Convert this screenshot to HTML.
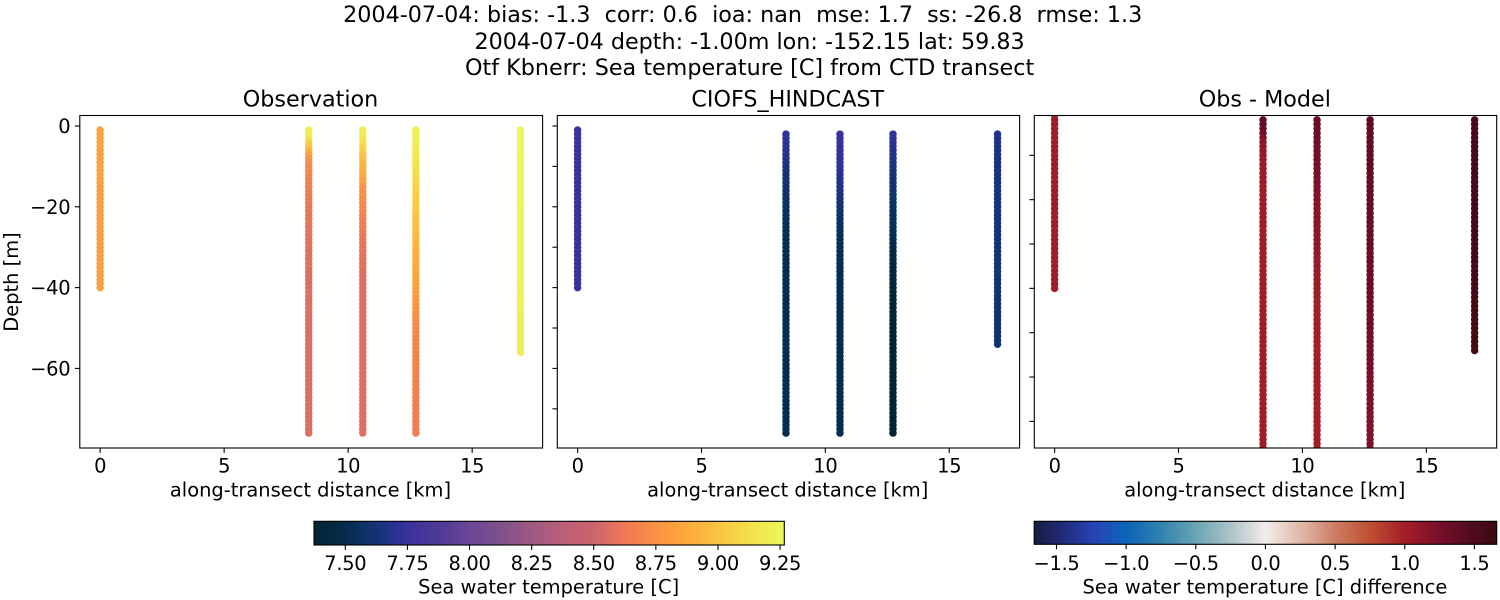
<!DOCTYPE html>
<html><head><meta charset="utf-8"><title>CTD transect comparison</title>
<style>
html,body{margin:0;padding:0;background:#fff}
svg{display:block}
text{font-family:"DejaVu Sans","Liberation Sans",sans-serif;fill:#000}
</style></head>
<body>
<svg id="fig" xmlns="http://www.w3.org/2000/svg" width="1500" height="600" viewBox="0 0 1500 600">
<rect width="1500" height="600" fill="#fff"/>
<text x="742.7" y="22" font-size="22.25" text-anchor="middle" xml:space="preserve">2004-07-04: bias: -1.3  corr: 0.6  ioa: nan  mse: 1.7  ss: -26.8  rmse: 1.3</text>
<text x="749.6" y="49" font-size="22.25" text-anchor="middle">2004-07-04 depth: -1.00m lon: -152.15 lat: 59.83</text>
<text x="749.6" y="75" font-size="22.25" text-anchor="middle">Otf Kbnerr: Sea temperature [C] from CTD transect</text>
<defs id="defs"></defs>
<g id="plots"></g>
</svg>
<script>
// ---- data ----
const stationDistanceKm = [0, 8.41, 10.59, 12.73, 16.95];
const depthLevels = [-1,-2,-3,-4,-5,-6,-7,-8,-9,-10,-11,-12,-13,-14,-15,-16,-17,-18,-19,-20,-21,-22,-23,-24,-25,-26,-27,-28,-29,-30,-31,-32,-33,-34,-35,-36,-37,-38,-39,-40,-41,-42,-43,-44,-45,-46,-47,-48,-49,-50,-51,-52,-53,-54,-55,-56,-57,-58,-59,-60,-61,-62,-63,-64,-65,-66,-67,-68,-69,-70,-71,-72,-73,-74,-75,-76];
const obsDepthOffset = [0,0,0,0,0];
const modelDepthOffset = [0,1,1,1,1];

const obsStation0 = [8.84,8.84,8.84,8.84,8.84,8.83,8.83,8.83,8.83,8.83,8.83,8.83,8.83,8.83,8.82,8.82,8.82,8.82,8.82,8.82,8.82,8.82,8.82,8.82,8.82,8.82,8.82,8.82,8.82,8.82,8.81,8.81,8.81,8.81,8.81,8.81,8.81,8.81,8.81,8.81];
const obsStation1 = [9.21,9.2,9.17,9.08,9.02,8.92,8.85,8.78,8.74,8.72,8.7,8.69,8.68,8.67,8.66,8.65,8.64,8.64,8.63,8.62,8.62,8.61,8.61,8.61,8.6,8.6,8.6,8.59,8.59,8.59,8.58,8.58,8.58,8.58,8.58,8.57,8.57,8.57,8.57,8.57,8.57,8.57,8.57,8.57,8.57,8.57,8.57,8.56,8.56,8.56,8.56,8.56,8.56,8.56,8.56,8.56,8.56,8.56,8.56,8.56,8.56,8.56,8.56,8.56,8.56,8.56,8.56,8.56,8.56,8.56,8.56,8.56,8.56,8.56,8.56,8.56];
const obsStation2 = [9.21,9.2,9.18,9.13,9.09,9.05,9.01,8.98,8.95,8.92,8.9,8.87,8.85,8.82,8.78,8.76,8.75,8.73,8.72,8.7,8.69,8.68,8.67,8.66,8.65,8.64,8.63,8.62,8.61,8.6,8.6,8.59,8.59,8.58,8.58,8.57,8.57,8.57,8.57,8.57,8.57,8.57,8.57,8.57,8.57,8.57,8.57,8.57,8.57,8.57,8.57,8.57,8.57,8.57,8.57,8.57,8.57,8.57,8.57,8.57,8.57,8.57,8.57,8.57,8.57,8.57,8.57,8.57,8.57,8.57,8.57,8.57,8.57,8.57,8.57,8.57];
const obsStation3 = [9.23,9.22,9.22,9.21,9.2,9.19,9.18,9.17,9.16,9.15,9.14,9.12,9.1,9.09,9.08,9.07,9.06,9.05,9.05,9.04,9.03,9.02,9.01,9,8.99,8.98,8.96,8.95,8.94,8.93,8.92,8.91,8.9,8.89,8.88,8.86,8.85,8.84,8.84,8.83,8.82,8.81,8.8,8.78,8.77,8.76,8.75,8.73,8.72,8.71,8.71,8.7,8.7,8.69,8.69,8.69,8.68,8.68,8.68,8.68,8.68,8.67,8.67,8.67,8.67,8.67,8.67,8.66,8.66,8.66,8.66,8.66,8.66,8.66,8.66,8.66];
const obsStation4 = [9.26,9.26,9.26,9.26,9.26,9.26,9.26,9.25,9.25,9.25,9.25,9.25,9.25,9.25,9.25,9.25,9.25,9.25,9.25,9.25,9.24,9.24,9.24,9.24,9.24,9.24,9.24,9.24,9.24,9.24,9.23,9.23,9.23,9.23,9.23,9.23,9.23,9.23,9.23,9.22,9.22,9.22,9.22,9.22,9.22,9.22,9.22,9.21,9.21,9.21,9.21,9.21,9.21,9.21,9.21,9.21];

const modelStation0 = [7.76,7.76,7.76,7.76,7.76,7.76,7.76,7.75,7.75,7.75,7.75,7.75,7.75,7.75,7.75,7.75,7.75,7.75,7.75,7.75,7.75,7.75,7.75,7.75,7.75,7.75,7.75,7.75,7.75,7.75,7.75,7.75,7.75,7.75,7.75,7.75,7.75,7.75,7.75,7.75];
const modelStation1 = [7.73,7.72,7.72,7.71,7.7,7.69,7.68,7.66,7.65,7.64,7.63,7.62,7.61,7.6,7.59,7.58,7.57,7.57,7.56,7.55,7.55,7.54,7.54,7.53,7.52,7.52,7.52,7.51,7.51,7.51,7.51,7.51,7.5,7.5,7.5,7.5,7.5,7.5,7.5,7.5,7.5,7.5,7.5,7.5,7.5,7.5,7.5,7.5,7.5,7.5,7.5,7.5,7.5,7.5,7.5,7.5,7.5,7.5,7.5,7.5,7.5,7.5,7.5,7.5,7.5,7.5,7.5,7.5,7.5,7.5,7.5,7.5,7.5,7.5,7.5];
const modelStation2 = [7.75,7.75,7.75,7.74,7.74,7.73,7.73,7.72,7.72,7.71,7.7,7.69,7.68,7.67,7.66,7.65,7.64,7.62,7.61,7.6,7.59,7.57,7.56,7.55,7.54,7.54,7.53,7.53,7.53,7.52,7.52,7.52,7.52,7.52,7.51,7.51,7.51,7.51,7.51,7.51,7.51,7.51,7.51,7.51,7.5,7.5,7.5,7.5,7.5,7.5,7.5,7.5,7.5,7.5,7.5,7.5,7.5,7.5,7.5,7.5,7.5,7.5,7.5,7.5,7.5,7.5,7.5,7.5,7.5,7.5,7.5,7.5,7.5,7.5,7.5];
const modelStation3 = [7.73,7.72,7.71,7.7,7.69,7.68,7.67,7.66,7.65,7.64,7.63,7.62,7.61,7.6,7.6,7.59,7.58,7.57,7.57,7.56,7.55,7.54,7.53,7.52,7.51,7.5,7.5,7.49,7.48,7.47,7.46,7.45,7.44,7.44,7.43,7.42,7.42,7.41,7.41,7.41,7.4,7.4,7.4,7.4,7.4,7.4,7.39,7.39,7.39,7.39,7.39,7.39,7.39,7.39,7.39,7.39,7.39,7.39,7.39,7.39,7.39,7.39,7.39,7.39,7.39,7.39,7.39,7.39,7.39,7.39,7.39,7.39,7.39,7.39,7.39];
const modelStation4 = [7.68,7.67,7.67,7.66,7.66,7.66,7.65,7.65,7.65,7.65,7.65,7.64,7.64,7.64,7.64,7.64,7.64,7.64,7.64,7.63,7.63,7.63,7.63,7.63,7.63,7.63,7.63,7.63,7.62,7.62,7.62,7.62,7.62,7.62,7.62,7.62,7.61,7.61,7.61,7.61,7.61,7.61,7.61,7.61,7.61,7.6,7.6,7.6,7.6,7.6,7.6,7.6,7.6];

const diffStation0 = [1.03,1.03,1.03,1.03,1.03,1.03,1.03,1.03,1.03,1.03,1.03,1.03,1.03,1.03,1.03,1.03,1.03,1.03,1.03,1.03,1.03,1.03,1.03,1.03,1.03,1.03,1.03,1.03,1.03,1.03,1.03,1.03,1.03,1.03,1.03,1.03,1.03,1.03,1.03,1.03];
const diffStation1 = [1.38,1.37,1.36,1.28,1.2,1.14,1.1,1.08,1.07,1.06,1.05,1.05,1.04,1.04,1.04,1.03,1.03,1.03,1.03,1.03,1.03,1.03,1.02,1.02,1.02,1.02,1.02,1.02,1.02,1.02,1.01,1.01,1.01,1.01,1.01,1.01,1.01,1.01,1.01,1.01,1.01,1.01,1.01,1.01,1.01,1.01,1.01,1.01,1.01,1.01,1.01,1.01,1.01,1.01,1.01,1.01,1.01,1.01,1.01,1.01,1.01,1.01,1.01,1.01,1.01,1.01,1.01,1.01,1.01,1.01,1.01,1.01,1.01,1.01,1.01];
const diffStation2 = [1.34,1.33,1.33,1.32,1.31,1.3,1.29,1.28,1.27,1.26,1.25,1.24,1.23,1.22,1.21,1.2,1.19,1.19,1.18,1.17,1.16,1.16,1.15,1.14,1.13,1.13,1.12,1.11,1.1,1.1,1.09,1.08,1.07,1.07,1.06,1.05,1.05,1.04,1.04,1.03,1.03,1.02,1.02,1.02,1.01,1.01,1.01,1,1,1,1,1,1,1,1,1,1,1,1,1,1,1,1,1,1,1,1,1,1,1,1,1,1,1,1];
const diffStation3 = [1.4,1.39,1.39,1.39,1.38,1.38,1.38,1.38,1.38,1.37,1.37,1.37,1.37,1.36,1.36,1.36,1.36,1.35,1.35,1.35,1.35,1.35,1.34,1.34,1.34,1.34,1.34,1.33,1.33,1.33,1.33,1.33,1.33,1.32,1.32,1.32,1.32,1.31,1.31,1.31,1.31,1.31,1.3,1.3,1.3,1.3,1.29,1.29,1.28,1.28,1.27,1.27,1.26,1.26,1.25,1.25,1.24,1.24,1.23,1.23,1.22,1.22,1.22,1.21,1.21,1.21,1.21,1.2,1.2,1.2,1.2,1.2,1.2,1.2,1.2];
const diffStation4 = [1.56,1.56,1.56,1.56,1.57,1.57,1.57,1.57,1.57,1.57,1.57,1.57,1.57,1.57,1.57,1.57,1.57,1.58,1.58,1.58,1.58,1.58,1.58,1.58,1.58,1.58,1.58,1.58,1.58,1.58,1.58,1.58,1.58,1.58,1.58,1.58,1.58,1.59,1.59,1.59,1.59,1.59,1.59,1.59,1.59,1.59,1.59,1.59,1.59,1.59,1.6,1.6,1.6];

const xTickValues = [0,5,10,15];
const obsYTickValues = [0,-20,-40,-60];
const modelYTickValues = [0,-10,-20,-30,-40,-50,-60,-70];
const diffYTickValues = [-10,-20,-30,-40,-50,-60,-70];
const tempTickValues = [7.5,7.75,8,8.25,8.5,8.75,9,9.25];
const tempTickLabels = ["7.50","7.75","8.00","8.25","8.50","8.75","9.00","9.25"];
const diffTickValues = [-1.5,-1,-0.5,0,0.5,1,1.5];
const diffTickLabels = ["\u22121.5","\u22121.0","\u22120.5","0.0","0.5","1.0","1.5"];

// ---- colormaps ----
const thermalStops = [[0,4,35,51],[.04,5,40,65],[.07,6,44,82],[.11,15,50,105],[.15,28,50,130],[.18,45,50,150],[.2,58,50,155],[.28,85,60,150],[.33,105,70,150],[.4,130,80,140],[.463,160,88,130],[.53,185,95,120],[.595,205,100,110],[.66,238,120,85],[.727,250,145,70],[.78,253,165,60],[.859,250,195,65],[.93,245,225,75],[1,232,250,88]];
const balanceStops = [[0,24,29,67],[.05,30,40,110],[.125,40,65,180],[.2,12,100,185],[.275,50,130,175],[.35,105,165,180],[.425,175,195,200],[.5,241,236,235],[.575,225,185,170],[.65,205,125,100],[.725,190,80,50],[.8,165,30,40],[.875,120,15,42],[.95,78,12,30],[1,60,9,18]];
function cmap(stops,t){
  t=Math.max(0,Math.min(1,t));
  for(let i=1;i<stops.length;i++){
    if(t<=stops[i][0]){
      const a=stops[i-1],b=stops[i],f=(t-a[0])/(b[0]-a[0]);
      return 'rgb('+[1,2,3].map(k=>Math.round(a[k]+(b[k]-a[k])*f)).join(',')+')';
    }
  }
  const l=stops[stops.length-1];
  return 'rgb('+l[1]+','+l[2]+','+l[3]+')';
}
const tempMin=7.374,tempMax=9.267,diffMax=1.66;
const tempColor=v=>cmap(thermalStops,(v-tempMin)/(tempMax-tempMin));
const diffColor=v=>cmap(balanceStops,(v+diffMax)/(2*diffMax));

// ---- helpers ----
const NS='http://www.w3.org/2000/svg';
const plots=document.getElementById('plots');
const defs=document.getElementById('defs');
const LABEL_SIZE=19.44, TITLE_SIZE=22.25;
function mk(tag,attrs,parent){
  const e=document.createElementNS(NS,tag);
  for(const k in attrs)e.setAttribute(k,attrs[k]);
  (parent||plots).appendChild(e);
  return e;
}
function label(parent,x,y,size,anchor,str,name,spacing){
  const t=mk('text',{x:x,y:y,'font-size':size,'text-anchor':anchor},parent);
  t.textContent=str;
  if(spacing)t.setAttribute('letter-spacing',spacing);
  
  
  return t;
}
function tick(parent,x1,y1,x2,y2,name){
  const l=mk('line',{x1:x1,y1:y1,x2:x2,y2:y2,stroke:'#000','stroke-width':1.1},parent);
  
  
}
const fmtDepth=v=>v<0?'\u2212'+(-v):String(v);

// ---- panels ----
const axTop=115.5,axBottom=448;
function panel(cfg){
  const g=mk('g',{});
  
  
  const W=cfg.right-cfg.left;
  const xScale=km=>cfg.left+(km-cfg.xMin)/(cfg.xMax-cfg.xMin)*W;
  const yScale=d=>axTop+(cfg.yMax-d)/(cfg.yMax-cfg.yMin)*(axBottom-axTop);
  const clip=mk('clipPath',{id:'clip-'+cfg.name},defs);
  mk('rect',{x:cfg.left,y:axTop,width:W,height:axBottom-axTop},clip);
  const marks=mk('g',{'clip-path':'url(#clip-'+cfg.name+')'},g);
  
  
  cfg.series.forEach((vals,s)=>{
    vals.forEach((v,i)=>{
      const c=mk('circle',{cx:xScale(stationDistanceKm[s]),cy:yScale(depthLevels[i+cfg.offset[s]]),r:3.75,fill:cfg.color(v)},marks);
      
      
    });
  });
  const frame=mk('rect',{x:cfg.left,y:axTop,width:W,height:axBottom-axTop,fill:'none',stroke:'#000','stroke-width':1.1},g);
  
  
  xTickValues.forEach(v=>{
    const x=xScale(v);
    tick(g,x,axBottom,x,axBottom+4.9,'x-tick');
    label(g,x,472.7,LABEL_SIZE,'middle',String(v),'x-tick-label','-0.3');
  });
  cfg.yTicks.forEach(v=>{
    const y=yScale(v);
    tick(g,cfg.left,y,cfg.left-4.9,y,'y-tick');
    if(cfg.yLabels)label(g,cfg.left-9.5,y+7.1,LABEL_SIZE,'end',fmtDepth(v),'y-tick-label','-0.3');
  });
  const mid=(cfg.left+cfg.right)/2-0.7;
  label(g,mid,496.7,LABEL_SIZE,'middle','along-transect distance [km]','x-axis-title');
  label(g,mid,106.7,TITLE_SIZE,'middle',cfg.title,'panel-title');
}
const xMin=-0.82,xMax=17.84;
panel({name:'observation',title:'Observation',left:79.8,right:542.6,xMin,xMax,yMin:-79.7,yMax:2.6,
  series:[obsStation0,obsStation1,obsStation2,obsStation3,obsStation4],offset:obsDepthOffset,color:tempColor,yTicks:obsYTickValues,yLabels:true});
panel({name:'model',title:'CIOFS_HINDCAST',left:557.3,right:1019.6,xMin,xMax,yMin:-79.7,yMax:2.6,
  series:[modelStation0,modelStation1,modelStation2,modelStation3,modelStation4],offset:modelDepthOffset,color:tempColor,yTicks:modelYTickValues,yLabels:false});
panel({name:'difference',title:'Obs - Model',left:1034.3,right:1496.7,xMin,xMax,yMin:-76,yMax:-1.02,
  series:[diffStation0,diffStation1,diffStation2,diffStation3,diffStation4],offset:modelDepthOffset,color:diffColor,yTicks:diffYTickValues,yLabels:false});

const yTitle=label(plots,0,0,LABEL_SIZE,'middle','Depth [m]','y-axis-title');
yTitle.setAttribute('transform','translate(18,282) rotate(-90)');

// ---- colorbars ----
function colorbar(cfg){
  const g=mk('g',{});
  
  
  const grad=mk('linearGradient',{id:'grad-'+cfg.name,x1:0,x2:1,y1:0,y2:0},defs);
  cfg.stops.forEach(s=>{
    mk('stop',{offset:s[0],'stop-color':'rgb('+s[1]+','+s[2]+','+s[3]+')'},grad);
  });
  const h=cfg.bottom-521.3;
  const bar=mk('rect',{x:cfg.left,y:521.3,width:cfg.right-cfg.left,height:h,fill:'url(#grad-'+cfg.name+')',stroke:'#000','stroke-width':1.1},g);
  
  
  const sx=v=>cfg.left+(v-cfg.min)/(cfg.max-cfg.min)*(cfg.right-cfg.left);
  cfg.ticks.forEach((v,i)=>{
    const x=sx(v);
    tick(g,x,cfg.bottom,x,cfg.bottom+4.9,'colorbar-tick');
    label(g,x,570,LABEL_SIZE,'middle',cfg.labels[i],'colorbar-tick-label','-0.3');
  });
  label(g,(cfg.left+cfg.right)/2-0.5,593.5,LABEL_SIZE,'middle',cfg.title,'colorbar-title');
}
colorbar({name:'temperature-colorbar',left:314,right:784.3,bottom:545,min:tempMin,max:tempMax,stops:thermalStops,ticks:tempTickValues,labels:tempTickLabels,title:'Sea water temperature [C]'});
colorbar({name:'difference-colorbar',left:1034.2,right:1496.7,bottom:544.3,min:-diffMax,max:diffMax,stops:balanceStops,ticks:diffTickValues,labels:diffTickLabels,title:'Sea water temperature [C] difference'});
</script>
</body></html>
